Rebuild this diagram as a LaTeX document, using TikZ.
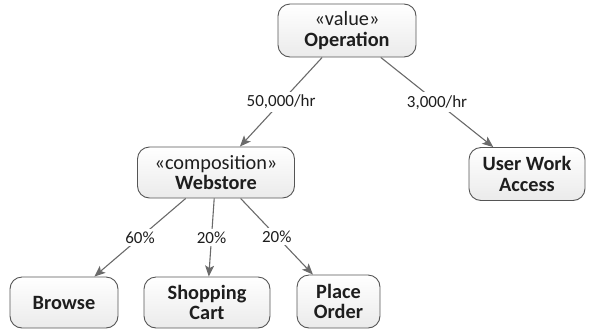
\documentclass[tikz,border=0pt]{standalone}
\usepackage{fontspec}
\setmainfont{Carlito}
\usetikzlibrary{arrows.meta}
\definecolor{edgegray}{HTML}{6A6A6A}
\definecolor{boxline}{HTML}{555555}
\definecolor{txt}{HTML}{1E1E1E}
\tikzset{
  block/.style={draw=boxline, line width=0.9pt, rounded corners=12pt,
    top color=white, bottom color=black!8, text=txt, align=center,
    inner sep=0pt, font=\fontsize{20.3}{20.5}\selectfont},
  flow/.style={draw=edgegray, line width=1.1pt,
    -{Stealth[length=11pt,width=9pt,inset=2.5pt]}},
  rate/.style={fill=white, text=txt, inner sep=3pt,
    font=\fontsize{17}{17}\selectfont}
}
\begin{document}
\begin{tikzpicture}[x=1pt,y=-1pt]
  \useasboundingbox (0,0) rectangle (591,330);

  % value tree nodes
  \node[block, minimum width=138pt, minimum height=53pt] (op) at (347,30.5)
    {«value»\\\textbf{Operation}};
  \node[block, minimum width=157pt, minimum height=51pt] (ws) at (216,172.5)
    {«composition»\\\textbf{Webstore}};
  \node[block, minimum width=116pt, minimum height=53pt] (ua) at (527,174)
    {\textbf{User Work}\\\textbf{Access}};
  \node[block, minimum width=108pt, minimum height=51pt] (br) at (64,302.5)
    {\textbf{Browse}};
  \node[block, minimum width=126pt, minimum height=51pt] (sc) at (207,302.5)
    {\textbf{Shopping}\\\textbf{Cart}};
  \node[block, minimum width=83pt, minimum height=53pt] (po) at (338.5,301.5)
    {\textbf{Place}\\\textbf{Order}};

  % weighted flows
  \draw[flow] (op) -- node[rate] {50,000/hr} (ws);
  \draw[flow] (op) -- node[rate] {3,000/hr} (ua);
  \draw[flow] (ws) -- node[rate] {60\%} (br);
  \draw[flow] (ws) -- node[rate] {20\%} (sc);
  \draw[flow] (ws) -- node[rate] {20\%} (po);
\end{tikzpicture}
\end{document}
